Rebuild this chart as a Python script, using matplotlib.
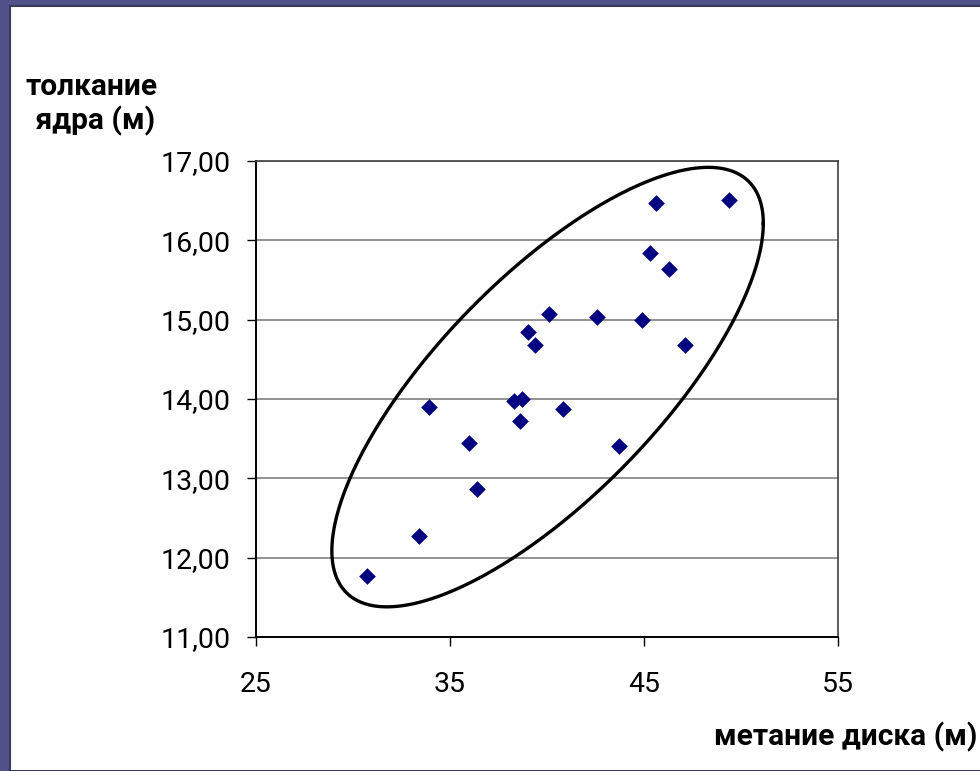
import numpy as np
import matplotlib
matplotlib.use("Agg")
import matplotlib.pyplot as plt
from matplotlib.patches import Rectangle

plt.rcParams['font.family'] = ['Roboto', 'DejaVu Sans']

# метание диска (м) / толкание ядра (м)
discus = [30.7, 33.4, 33.9, 36.0, 36.4, 38.3, 38.7, 38.6, 39.0, 39.4,
          40.1, 40.8, 42.6, 43.7, 44.9, 45.3, 45.6, 46.3, 47.1, 49.4]
shot = [11.77, 12.27, 13.90, 13.45, 12.86, 13.98, 14.00, 13.72, 14.84, 14.68,
        15.07, 13.87, 15.03, 13.41, 14.99, 15.84, 16.47, 15.64, 14.68, 16.51]

x_ticks = [25, 35, 45, 55]
y_ticks = [11, 12, 13, 14, 15, 16, 17]
y_labels = ['11,00', '12,00', '13,00', '14,00', '15,00', '16,00', '17,00']

# hand-drawn ellipse around the cloud (data units)
ell_center = (40.03, 14.15)
ell_half_x = 11.12
ell_half_y = 2.77
ell_corr = 0.745

fig = plt.figure(figsize=(9.8, 7.71), dpi=100, facecolor='#51518a')
# white slide area
fig.patches.append(Rectangle((10 / 980, 0), 1, (771 - 6) / 771, transform=fig.transFigure,
                             facecolor='white', edgecolor='#3a3a58', linewidth=1.5, zorder=-10))

ax = fig.add_axes([256 / 980, (771 - 637) / 771, 582 / 980, 476 / 771])
ax.set_xlim(25, 55)
ax.set_ylim(11, 17)
ax.patch.set_alpha(0)

ax.scatter(discus, shot, marker='D', s=8.5 ** 2, color='#000080', linewidths=0, zorder=3)

t = np.linspace(0, 2 * np.pi, 400)
ex = ell_center[0] + ell_half_x * np.cos(t)
ey = ell_center[1] + ell_half_y * (ell_corr * np.cos(t) + np.sqrt(1 - ell_corr ** 2) * np.sin(t))
ax.plot(ex, ey, color='black', linewidth=2.4, zorder=4)

ax.set_xticks(x_ticks)
ax.set_yticks(y_ticks)
ax.set_yticklabels(y_labels)
ax.tick_params(axis='both', direction='out', length=6.5, width=1, labelsize=20.5, colors='black')
ax.tick_params(axis='x', pad=18)
ax.tick_params(axis='y', pad=12)

ax.grid(axis='y', color='#808080', linewidth=1.2)
ax.set_axisbelow(True)
for side in ['left', 'bottom']:
    ax.spines[side].set_color('black')
    ax.spines[side].set_linewidth(1.4)
for side in ['top', 'right']:
    ax.spines[side].set_color('#404040')
    ax.spines[side].set_linewidth(1.2)

fig.text(92 / 980, 1 - 73 / 771, 'толкание\n ядра (м)', ha='center', va='top',
         fontsize=21.5, fontweight='bold', multialignment='center', linespacing=1.2)
fig.text(977 / 980, 1 - 737 / 771, 'метание диска (м)', ha='right', va='center',
         fontsize=21.5, fontweight='bold')

fig.savefig('out.png', dpi=100, facecolor=fig.get_facecolor())
